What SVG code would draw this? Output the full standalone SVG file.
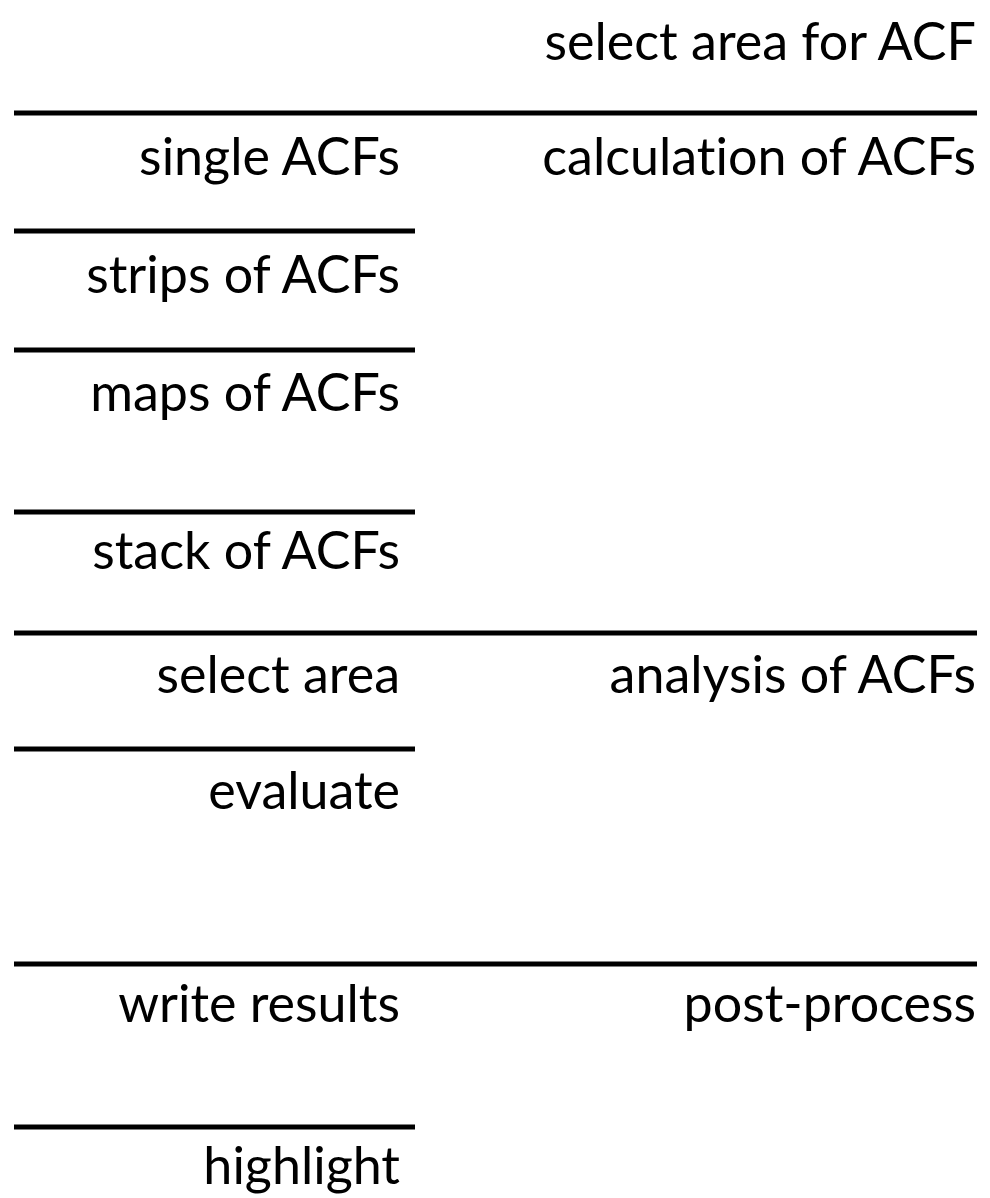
<svg xmlns="http://www.w3.org/2000/svg" width="990" height="1198" viewBox="0 0 990 1198">
<style>
.t{font-family:"Lato","Liberation Sans",sans-serif;font-size:52px;fill:#000;text-anchor:end;font-variant-ligatures:none;font-feature-settings:"liga" 0}
.l{stroke:#000;stroke-width:5}
</style>
<rect width="990" height="1198" fill="#fff"/>
<g id="connectors">
<line class="l" x1="14" y1="113" x2="977" y2="113"/>
<line class="l" x1="14" y1="231" x2="415" y2="231"/>
<line class="l" x1="14" y1="350" x2="415" y2="350"/>
<line class="l" x1="14" y1="512" x2="415" y2="512"/>
<line class="l" x1="14" y1="633" x2="977" y2="633"/>
<line class="l" x1="14" y1="749" x2="415" y2="749"/>
<line class="l" x1="14" y1="964" x2="977" y2="964"/>
<line class="l" x1="14" y1="1127" x2="415" y2="1127"/>
</g>
<g id="n-select-area-acf"><text class="t" x="976" y="60">select area for ACF</text></g>
<g id="n-calc"><text class="t" x="976" y="175">calculation of ACFs</text></g>
<g id="n-single"><text class="t" x="400" y="175">single ACFs</text></g>
<g id="n-strips"><text class="t" x="400" y="293">strips of ACFs</text></g>
<g id="n-maps"><text class="t" x="400" y="411">maps of ACFs</text></g>
<g id="n-stack"><text class="t" x="400" y="569">stack of ACFs</text></g>
<g id="n-select-area"><text class="t" x="400" y="693">select area</text></g>
<g id="n-analysis"><text class="t" x="976" y="693">analysis of ACFs</text></g>
<g id="n-evaluate"><text class="t" x="400" y="809">evaluate</text></g>
<g id="n-write"><text class="t" x="400" y="1022">write results</text></g>
<g id="n-post"><text class="t" x="976" y="1022">post-process</text></g>
<g id="n-highlight"><text class="t" x="400" y="1184">highlight</text></g>
</svg>
